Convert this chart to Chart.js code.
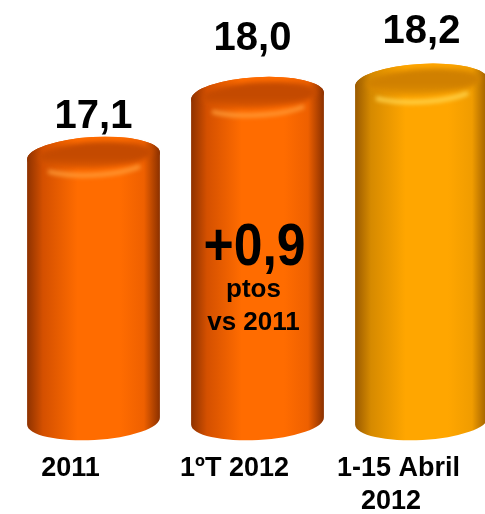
<!DOCTYPE html>
<html>
<head>
<meta charset="utf-8">
<script src="https://cdn.jsdelivr.net/npm/chart.js@4/dist/chart.umd.min.js"></script>
<style>
  html, body { margin: 0; padding: 0; background: #fff; }
  #wrap { width: 485px; height: 514px; position: relative; }
</style>
</head>
<body>
<div id="wrap"><canvas id="c" width="485" height="514"></canvas></div>
<script>
// ---- data ----
const categories = ['2011', '1ºT 2012', ['1-15 Abril', '2012  ']];
const values = [17.1, 18.0, 18.2];
const valueLabels = ['17,1', '18,0', '18,2'];
const noteLines = ['+0,9', 'ptos', 'vs 2011'];
const axisMin = 13.115;
const axisMax = 19.446;

// ---- styles ----
const palettes = [
  { edgeL: '#8e3200', midL: '#d45000', main: '#ff6c00', midR: '#ee6000', edgeR: '#8a3000', capIn: '#c44a00', capFront: '#f06400', hi: 'rgba(255,160,60,0.9)' },
  { edgeL: '#8e3200', midL: '#d45000', main: '#ff6c00', midR: '#ee6000', edgeR: '#8a3000', capIn: '#c44a00', capFront: '#f06400', hi: 'rgba(255,160,60,0.9)' },
  { edgeL: '#9a5a00', midL: '#d68a00', main: '#ffa600', midR: '#f09c00', edgeR: '#9a5c00', capIn: '#d08000', capFront: '#f5a000', hi: 'rgba(255,215,80,0.95)' }
];
const labelDy = [-28, -46, -40];
const labelDx = [0, -5, 0];
const xSpan = { left: 11.5, right: 503.5 };

const FONT = '"Liberation Sans", Arial, sans-serif';

function cylinder(ctx, cx, top, bottom, w, p) {
  const rx = w / 2, ry = 19, rot = -0.055;
  const g = ctx.createLinearGradient(cx - rx, 0, cx + rx, 0);
  g.addColorStop(0, p.edgeL);
  g.addColorStop(0.12, p.midL);
  g.addColorStop(0.38, p.main);
  g.addColorStop(0.7, p.main);
  g.addColorStop(0.88, p.midR);
  g.addColorStop(1, p.edgeR);
  ctx.beginPath();
  ctx.ellipse(cx, top, rx, ry, rot, Math.PI, 2 * Math.PI, false);
  ctx.ellipse(cx, bottom, rx, ry, rot, 0, Math.PI, false);
  ctx.closePath();
  ctx.fillStyle = g;
  ctx.fill();
  ctx.beginPath();
  ctx.ellipse(cx, top, rx, ry, rot, 0, 2 * Math.PI);
  ctx.fillStyle = g;
  ctx.fill();
  const g2 = ctx.createLinearGradient(0, top - ry, 0, top + ry);
  g2.addColorStop(0, p.capIn);
  g2.addColorStop(0.55, p.capIn);
  g2.addColorStop(1, p.capFront);
  ctx.save();
  ctx.filter = 'blur(2.5px)';
  ctx.beginPath();
  ctx.ellipse(cx + 2, top - 1, rx * 0.86, ry * 0.68, rot, 0, 2 * Math.PI);
  ctx.fillStyle = g2;
  ctx.fill();
  ctx.restore();
  ctx.save();
  ctx.filter = 'blur(2px)';
  ctx.beginPath();
  ctx.ellipse(cx, top + 2, rx * 0.9, ry * 0.9, rot, Math.PI * 0.22, Math.PI * 0.78);
  ctx.strokeStyle = p.hi;
  ctx.lineWidth = 4;
  ctx.stroke();
  ctx.restore();
}

const spanPlugin = {
  id: 'span',
  afterLayout(chart) {
    const s = chart.scales.x;
    s.left = xSpan.left;
    s.right = xSpan.right;
    s.width = xSpan.right - xSpan.left;
    s.configure();
  }
};

const cylPlugin = {
  id: 'cyl',
  afterDatasetsDraw(chart) {
    const ctx = chart.ctx;
    const meta = chart.getDatasetMeta(0);
    meta.data.forEach((el, i) => {
      const { x, y, base, width } = el.getProps(['x', 'y', 'base', 'width'], true);
      cylinder(ctx, x, y, base, width, palettes[i]);
    });
    ctx.save();
    ctx.fillStyle = '#000';
    ctx.textAlign = 'center';
    ctx.textBaseline = 'alphabetic';
    ctx.font = 'bold 40px ' + FONT;
    meta.data.forEach((el, i) => {
      ctx.fillText(valueLabels[i], el.x + labelDx[i], el.y + labelDy[i]);
    });
    const b = meta.data[1];
    ctx.font = 'bold 60px ' + FONT;
    ctx.fillText(noteLines[0], b.x - 3, 265, 102);
    ctx.font = 'bold 26px ' + FONT;
    ctx.fillText(noteLines[1], b.x - 4, 297);
    ctx.fillText(noteLines[2], b.x - 4, 330);
    ctx.restore();
  }
};

new Chart(document.getElementById('c'), {
  type: 'bar',
  data: {
    labels: categories,
    datasets: [{
      data: values,
      base: axisMin,
      backgroundColor: 'rgba(0,0,0,0)',
      borderWidth: 0,
      barPercentage: 0.811,
      categoryPercentage: 1
    }]
  },
  options: {
    responsive: false,
    animation: false,
    events: [],
    layout: { autoPadding: false, padding: { left: 11.5, right: 0, top: 0, bottom: 0 } },
    plugins: { legend: { display: false }, tooltip: { enabled: false }, title: { display: false } },
    scales: {
      y: { display: false, min: axisMin, max: axisMax },
      x: {
        grid: { display: false, drawTicks: false },
        border: { display: false },
        afterFit: (s) => { s.height = 93; s.paddingLeft = 0; s.paddingRight = 0; },
        ticks: {
          color: '#000',
          font: { family: FONT, size: 27, weight: 'bold', lineHeight: 1.2 },
          padding: 31.8,
          labelOffset: -23,
          maxRotation: 0,
          autoSkip: false
        }
      }
    }
  },
  plugins: [spanPlugin, cylPlugin]
});
</script>
</body>
</html>
